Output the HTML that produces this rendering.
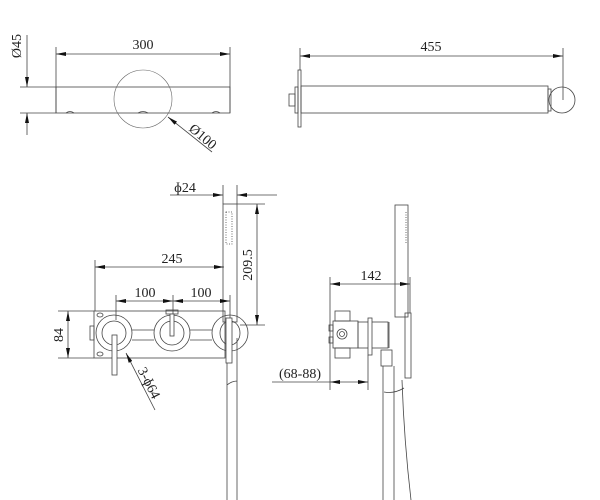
<!DOCTYPE html>
<html><head><style>
html,body{margin:0;padding:0;background:#fff;width:600px;height:500px;overflow:hidden}
text{font-family:"Liberation Serif",serif;fill:#222}
</style></head><body>
<svg width="600" height="500" viewBox="0 0 600 500" xmlns="http://www.w3.org/2000/svg">
<defs>
<marker id="a" viewBox="0 0 10 4" refX="10" refY="2" markerWidth="10" markerHeight="4" orient="auto-start-reverse" markerUnits="userSpaceOnUse"><path d="M0,0L10,2L0,4z" fill="#111"/></marker>
</defs>
<g stroke="#444" stroke-width="0.8" fill="none">
<!-- Top-left -->
<line x1="56" y1="54" x2="230" y2="54" marker-start="url(#a)" marker-end="url(#a)"/>
<line x1="56" y1="47" x2="56" y2="113"/><line x1="230" y1="47" x2="230" y2="113"/>
<rect x="56" y="87" width="174" height="26"/>
<line x1="20" y1="87" x2="56" y2="87"/><line x1="20" y1="113" x2="56" y2="113"/>
<line x1="27" y1="35" x2="27" y2="87" marker-end="url(#a)"/>
<line x1="27" y1="135" x2="27" y2="113" marker-end="url(#a)"/>
<circle cx="143" cy="99" r="29" stroke="#666" stroke-width="0.6"/>
<line x1="212" y1="152" x2="168" y2="117" marker-end="url(#a)"/>
<path d="M66,113q4,-3 8,0M138,113q5,-3 10,0M212,113q4,-3 8,0"/>
<!-- Top-right -->
<line x1="300" y1="56" x2="563" y2="56" marker-start="url(#a)" marker-end="url(#a)"/>
<line x1="300" y1="48" x2="300" y2="70"/><line x1="563" y1="48" x2="563" y2="100"/>
<rect x="298" y="70" width="3" height="57"/>
<rect x="295" y="87" width="3" height="26"/>
<rect x="289" y="94" width="6" height="12"/>
<rect x="301" y="86" width="247" height="27"/>
<rect x="548" y="89" width="3" height="22"/>
<circle cx="562" cy="100" r="13"/>
<!-- Bottom-left -->
<line x1="170" y1="195" x2="223" y2="195" marker-end="url(#a)"/>
<line x1="277" y1="195" x2="237" y2="195" marker-end="url(#a)"/>
<line x1="223" y1="185" x2="223" y2="204"/><line x1="237" y1="185" x2="237" y2="204"/>
<rect x="223" y="204" width="14" height="118"/>
<rect x="226" y="212" width="6" height="32" stroke-dasharray="1,1.5"/>
<line x1="237" y1="204" x2="265" y2="204"/><line x1="240" y1="325" x2="265" y2="325"/>
<line x1="257" y1="204" x2="257" y2="325" marker-start="url(#a)" marker-end="url(#a)"/>
<line x1="95" y1="267" x2="224" y2="267" marker-start="url(#a)" marker-end="url(#a)"/>
<line x1="95" y1="260" x2="95" y2="311"/>
<line x1="116" y1="301" x2="173" y2="301" marker-start="url(#a)" marker-end="url(#a)"/>
<line x1="173" y1="301" x2="230" y2="301" marker-start="url(#a)" marker-end="url(#a)"/>
<line x1="116" y1="295" x2="116" y2="320"/><line x1="173" y1="295" x2="173" y2="315"/><line x1="230" y1="295" x2="230" y2="318"/>
<rect x="94" y="311" width="131" height="47"/>
<rect x="90" y="326" width="4" height="14"/>
<line x1="132" y1="330" x2="154" y2="330"/><line x1="132" y1="340" x2="154" y2="340"/>
<line x1="190" y1="330" x2="212" y2="330"/><line x1="190" y1="340" x2="212" y2="340"/>
<ellipse cx="100" cy="315" rx="3" ry="2"/><ellipse cx="100" cy="354" rx="3" ry="2"/>
<circle cx="114" cy="333" r="18"/><circle cx="114" cy="333" r="12"/>
<circle cx="172" cy="333" r="18"/><circle cx="172" cy="333" r="12"/>
<circle cx="230" cy="333" r="18"/><ellipse cx="230" cy="333" rx="10" ry="12"/>
<rect x="112" y="335" width="5" height="40" fill="#fff"/>
<rect x="166" y="310" width="12" height="4"/>
<rect x="170" y="314" width="4" height="22" fill="#fff"/>
<line x1="58" y1="311" x2="94" y2="311"/><line x1="58" y1="358" x2="94" y2="358"/>
<line x1="68" y1="311" x2="68" y2="358" marker-start="url(#a)" marker-end="url(#a)"/>
<line x1="155" y1="410" x2="126" y2="353" marker-end="url(#a)"/>
<path d="M227,338V500M237,338V500M227,385q5,-4 10,-4" />
<rect x="226" y="318" width="6" height="45" fill="#fff"/>
<!-- Bottom-right -->
<rect x="395" y="205" width="13" height="112"/>
<line x1="406" y1="212" x2="406" y2="244" stroke-dasharray="1,1.5"/>
<line x1="330" y1="284" x2="410" y2="284" marker-start="url(#a)" marker-end="url(#a)"/>
<line x1="330" y1="277" x2="330" y2="390"/><line x1="410" y1="277" x2="410" y2="313"/>
<rect x="333" y="321" width="25" height="27"/>
<rect x="335" y="311" width="15" height="10"/><rect x="335" y="348" width="15" height="10"/>
<rect x="329" y="325" width="4" height="6"/><rect x="329" y="337" width="4" height="6"/>
<circle cx="342" cy="334" r="5"/><circle cx="342" cy="334" r="2.5"/>
<rect x="358" y="322" width="30" height="26"/>
<rect x="368" y="318" width="4" height="37" fill="#fff"/>
<line x1="389" y1="322" x2="389" y2="348"/>
<rect x="405" y="313" width="6" height="65"/>
<rect x="381" y="350" width="11" height="16"/>
<path d="M383,366V500M394,366V500M384,392q10,2 20,-4M402,380q2,60 9,120"/>
<line x1="368" y1="355" x2="368" y2="390"/>
<line x1="272" y1="382" x2="330" y2="382"/>
<line x1="330" y1="382" x2="368" y2="382" marker-start="url(#a)" marker-end="url(#a)"/>
</g>
<g font-size="14">
<text x="143" y="49" text-anchor="middle">300</text>
<text x="21" y="46" text-anchor="middle" transform="rotate(-90 21 46)">Ø45</text>
<text x="200" y="140" text-anchor="middle" transform="rotate(40 200 140)">Ø100</text>
<text x="431" y="51" text-anchor="middle">455</text>
<text x="185" y="192" text-anchor="middle">ɸ24</text>
<text x="252" y="265" text-anchor="middle" transform="rotate(-90 252 265)">209.5</text>
<text x="172" y="263" text-anchor="middle">245</text>
<text x="145" y="297" text-anchor="middle">100</text>
<text x="201" y="297" text-anchor="middle">100</text>
<text x="63" y="335" text-anchor="middle" transform="rotate(-90 63 335)">84</text>
<text x="145" y="385" text-anchor="middle" transform="rotate(63 145 385)">3-ɸ64</text>
<text x="371" y="280" text-anchor="middle">142</text>
<text x="300" y="378" text-anchor="middle">(68-88)</text>
</g>
</svg>
</body></html>
